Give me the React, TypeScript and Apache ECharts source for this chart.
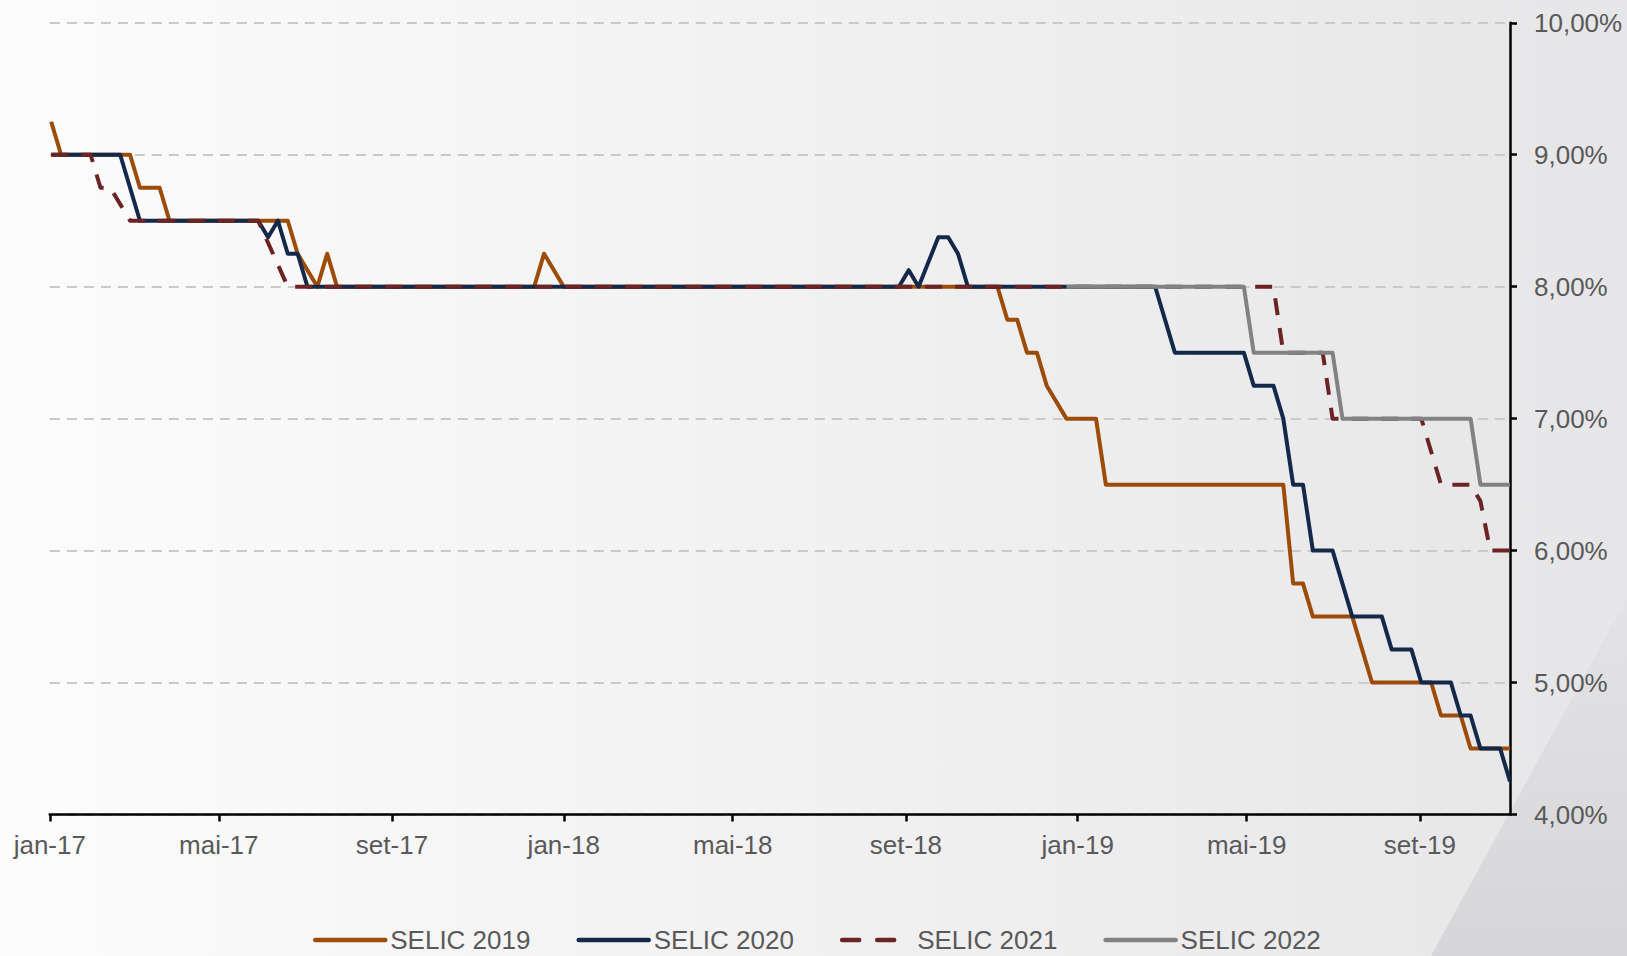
import React, { useEffect, useRef } from "react";
import * as echarts from "echarts";

// X axis ticks (first day of month, every 4 months)
const xTickDates = ["2017-01-01", "2017-05-01", "2017-09-01", "2018-01-01", "2018-05-01", "2018-09-01", "2019-01-01", "2019-05-01", "2019-09-01"];
const xTickLabels = ["jan-17", "mai-17", "set-17", "jan-18", "mai-18", "set-18", "jan-19", "mai-19", "set-19"];
const xMinDate = "2017-01-01";
const xMaxDate = "2019-11-04";

// Weekly Focus survey medians (vertices where the expectation changes)
const selic2019Dates = ["2017-01-02", "2017-01-09", "2017-02-27", "2017-03-06", "2017-03-20", "2017-03-27", "2017-06-19", "2017-06-26", "2017-07-10", "2017-07-17", "2017-07-24", "2017-12-11", "2017-12-18", "2018-01-01", "2018-11-05", "2018-11-12", "2018-11-19", "2018-11-26", "2018-12-03", "2018-12-10", "2018-12-24", "2019-01-14", "2019-01-21", "2019-05-27", "2019-06-03", "2019-06-10", "2019-06-17", "2019-07-15", "2019-07-29", "2019-09-09", "2019-09-16", "2019-09-30", "2019-10-07", "2019-11-04"];
const selic2019Values = [9.25, 9.0, 9.0, 8.75, 8.75, 8.5, 8.5, 8.25, 8.0, 8.25, 8.0, 8.0, 8.25, 8.0, 8.0, 7.75, 7.75, 7.5, 7.5, 7.25, 7.0, 7.0, 6.5, 6.5, 5.75, 5.75, 5.5, 5.5, 5.0, 5.0, 4.75, 4.75, 4.5, 4.5];

const selic2020Dates = ["2017-01-02", "2017-02-20", "2017-03-06", "2017-05-29", "2017-06-05", "2017-06-12", "2017-06-19", "2017-06-26", "2017-07-03", "2018-08-27", "2018-09-03", "2018-09-10", "2018-09-24", "2018-10-01", "2018-10-08", "2018-10-15", "2019-02-25", "2019-03-11", "2019-04-29", "2019-05-06", "2019-05-20", "2019-05-27", "2019-06-03", "2019-06-10", "2019-06-17", "2019-07-01", "2019-07-15", "2019-08-05", "2019-08-12", "2019-08-26", "2019-09-02", "2019-09-23", "2019-09-30", "2019-10-07", "2019-10-14", "2019-10-28", "2019-11-04"];
const selic2020Values = [9.0, 9.0, 8.5, 8.5, 8.375, 8.5, 8.25, 8.25, 8.0, 8.0, 8.125, 8.0, 8.375, 8.375, 8.25, 8.0, 8.0, 7.5, 7.5, 7.25, 7.25, 7.0, 6.5, 6.5, 6.0, 6.0, 5.5, 5.5, 5.25, 5.25, 5.0, 5.0, 4.75, 4.75, 4.5, 4.5, 4.25];

const selic2021Dates = ["2017-01-02", "2017-01-30", "2017-02-06", "2017-02-13", "2017-02-27", "2017-05-29", "2017-06-19", "2019-05-20", "2019-05-27", "2019-06-24", "2019-07-01", "2019-09-02", "2019-09-16", "2019-10-07", "2019-10-14", "2019-10-21", "2019-11-04"];
const selic2021Values = [9.0, 9.0, 8.75, 8.75, 8.5, 8.5, 8.0, 8.0, 7.5, 7.5, 7.0, 7.0, 6.5, 6.5, 6.375, 6.0, 6.0];

const selic2022Dates = ["2018-12-24", "2019-04-29", "2019-05-06", "2019-07-01", "2019-07-08", "2019-10-07", "2019-10-14", "2019-11-04"];
const selic2022Values = [8.0, 8.0, 7.5, 7.5, 7.0, 7.0, 6.5, 6.5];

const seriesNames = ["SELIC 2019", "SELIC 2020", "SELIC 2021", "SELIC 2022"];
const seriesColors = ["#9C4C08", "#14284A", "#6B2424", "#828282"];

const FONT = "'Liberation Sans', Arial, sans-serif";
const LABEL_COLOR = "#595959";

function ts(s: string): number {
  const [y, m, d] = s.split("-").map(Number);
  return new Date(y, m - 1, d).getTime();
}

function zip(dates: string[], values: number[]) {
  return dates.map((d, i) => [ts(d), values[i]]);
}

export default function App() {
  const ref = useRef<HTMLDivElement>(null);

  useEffect(() => {
    document.body.style.margin = "0";
    if (!ref.current) return;
    const chart = echarts.init(ref.current, undefined, { renderer: "svg" });
    const tickTs = xTickDates.map(ts);
    const datasets = [
      zip(selic2019Dates, selic2019Values),
      zip(selic2020Dates, selic2020Values),
      zip(selic2021Dates, selic2021Values),
      zip(selic2022Dates, selic2022Values),
    ];
    const dashPattern = [17, 13];

    chart.setOption({
      animation: false,
      backgroundColor: new echarts.graphic.LinearGradient(0, 0, 1, 0, [
        { offset: 0, color: "#fcfcfc" },
        { offset: 1, color: "#e6e6e8" },
      ]),
      textStyle: { fontFamily: FONT },
      graphic: [
        {
          type: "polygon",
          silent: true,
          z: -10,
          shape: { points: [[1627, 598], [1627, 956], [1431, 956]] },
          style: {
            fill: new echarts.graphic.LinearGradient(0, 0, 0, 1, [
              { offset: 0, color: "#e3e3e5" },
              { offset: 1, color: "#d6d6d8" },
            ]),
          },
        },
      ],
      grid: { left: 49.8, right: 117, top: 22.8, bottom: 141.5, containLabel: false },
      legend: {
        left: 308,
        top: 922,
        itemWidth: 70,
        itemHeight: 14,
        itemGap: 46,
        textStyle: { fontSize: 26, color: LABEL_COLOR, fontFamily: FONT },
        itemStyle: { opacity: 0 },
        lineStyle: { width: 4.5, cap: "round" },
        data: seriesNames.map((n, i) =>
          i === 2
            ? { name: n, lineStyle: { width: 4.5, type: [17, 18], cap: "round" } }
            : { name: n }
        ),
      },
      xAxis: {
        type: "value",
        min: ts(xMinDate),
        max: ts(xMaxDate),
        axisLine: { show: true, onZero: false, lineStyle: { color: "#000", width: 2.5 } },
        axisTick: {
          show: true,
          length: 7,
          customValues: tickTs,
          lineStyle: { color: "#000", width: 2.5 },
        },
        axisLabel: {
          customValues: tickTs,
          margin: 17,
          fontSize: 26,
          color: LABEL_COLOR,
          fontFamily: FONT,
          formatter: (v: number) => {
            const i = tickTs.indexOf(v);
            return i >= 0 ? xTickLabels[i] : "";
          },
        },
        splitLine: { show: false },
      },
      yAxis: {
        type: "value",
        position: "right",
        min: 4,
        max: 10,
        interval: 1,
        axisLine: { show: true, lineStyle: { color: "#000", width: 2.5 } },
        axisTick: { show: true, length: 7, lineStyle: { color: "#000", width: 2.5 } },
        axisLabel: {
          margin: 24,
          fontSize: 26,
          color: LABEL_COLOR,
          fontFamily: FONT,
          formatter: (v: number) => v.toFixed(2).replace(".", ",") + "%",
        },
        splitLine: {
          show: true,
          lineStyle: { color: "#c9c9c9", width: 2, type: [10, 7] },
        },
      },
      series: datasets.map((data, i) => ({
        name: seriesNames[i],
        type: "line",
        data,
        symbol: "none",
        showSymbol: false,
        color: seriesColors[i],
        lineStyle: {
          color: seriesColors[i],
          width: 4,
          type: i === 2 ? dashPattern : "solid",
          join: "round",
        },
        z: 2 + i,
      })),
    });

    return () => chart.dispose();
  }, []);

  return <div ref={ref} style={{ width: 1627, height: 956 }} />;
}
